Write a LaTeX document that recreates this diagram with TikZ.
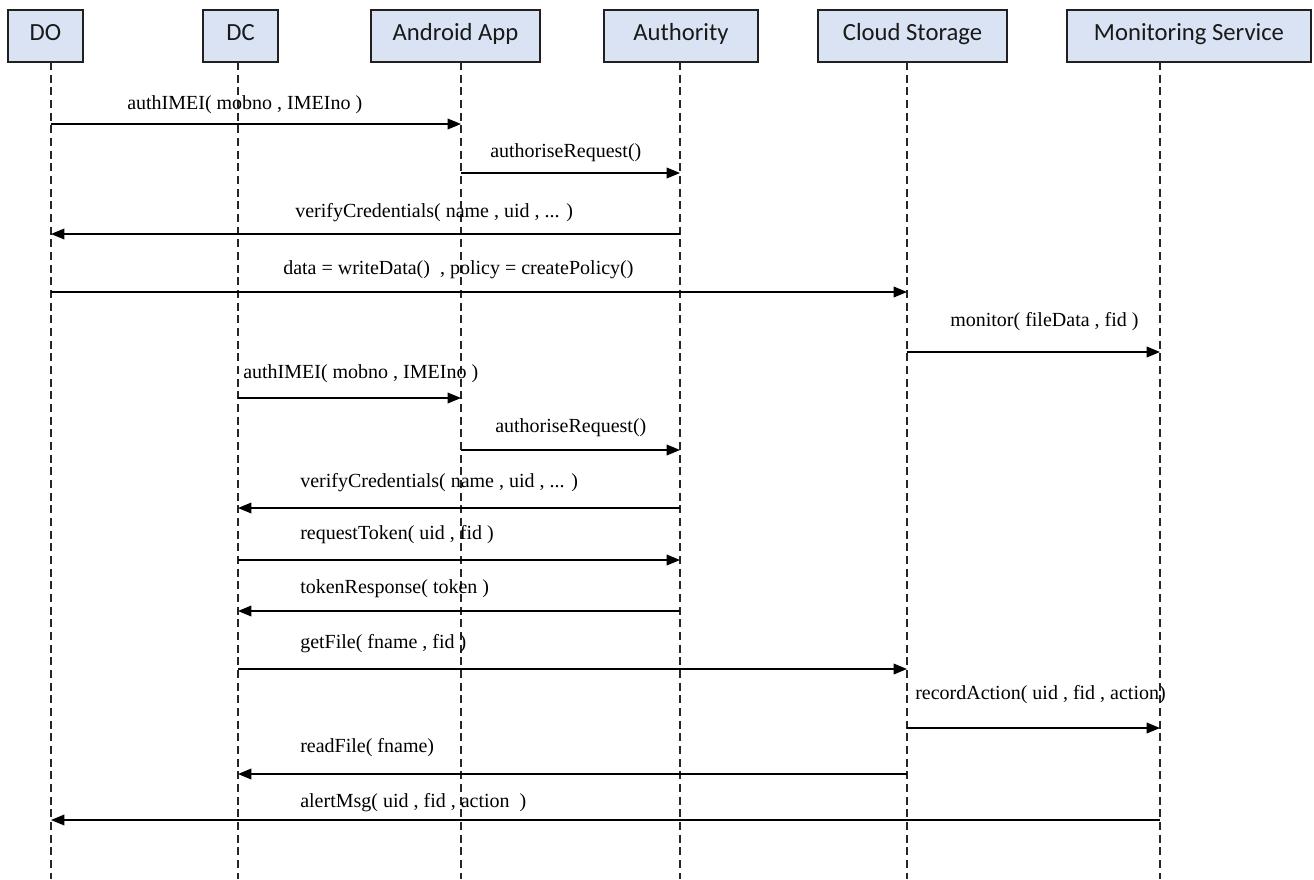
\documentclass[tikz,border=0pt]{standalone}
\usepackage{fontspec}
\setmainfont{Liberation Serif}
\newfontfamily\headfont{Carlito}
\usetikzlibrary{arrows.meta}
\definecolor{headfill}{HTML}{DAE3F3}
\definecolor{headdraw}{HTML}{202020}
\tikzset{
  actor/.style={draw=headdraw, line width=1.1pt, fill=headfill, minimum height=52*0.75pt,
    inner sep=0pt, text height=0.7em, text depth=0pt,
    font=\headfont\fontsize{18.5}{20}\selectfont, text=black!90},
  lifeline/.style={draw=black!85, line width=0.8pt, dash pattern=on 6pt off 3.5pt},
  msg/.style={draw=black, line width=1pt, -{Triangle[length=10pt,width=8pt]}},
  msglabel/.style={anchor=west, inner sep=0pt, font=\fontsize{15}{17}\selectfont}
}
\begin{document}
\begin{tikzpicture}[x=0.75pt, y=-0.75pt]
\useasboundingbox (0,0) rectangle (1314,879);

% actor heads
\node[actor, minimum width=75*0.75pt]  (do)  at (45.5,36)  {DO};
\node[actor, minimum width=75*0.75pt]  (dc)  at (240.5,36) {DC};
\node[actor, minimum width=169*0.75pt] (app) at (455.5,36) {Android App};
\node[actor, minimum width=154*0.75pt] (aut) at (681,36)   {Authority};
\node[actor, minimum width=189*0.75pt] (cs)  at (912.5,36) {Cloud Storage};
\node[actor, minimum width=244*0.75pt] (ms)  at (1189,36)  {Monitoring Service};

% lifelines
\coordinate (doL)  at (51,62);   \coordinate (doE)  at (51,879);
\coordinate (dcL)  at (238,62);  \coordinate (dcE)  at (238,879);
\coordinate (appL) at (461,62);  \coordinate (appE) at (461,879);
\coordinate (autL) at (680,62);  \coordinate (autE) at (680,879);
\coordinate (csL)  at (907,62);  \coordinate (csE)  at (907,879);
\coordinate (msL)  at (1160,62); \coordinate (msE)  at (1160,879);
\foreach \a in {do,dc,app,aut,cs,ms}
  \draw[lifeline] (\a L) -- (\a E);

% message rows
\coordinate (m1) at (0,124);
\coordinate (m2) at (0,173);
\coordinate (m3) at (0,234);
\coordinate (m4) at (0,292);
\coordinate (m5) at (0,352);
\coordinate (m6) at (0,398);
\coordinate (m7) at (0,450);
\coordinate (m8) at (0,508);
\coordinate (m9) at (0,560);
\coordinate (m10) at (0,611);
\coordinate (m11) at (0,669);
\coordinate (m12) at (0,728);
\coordinate (m13) at (0,774);
\coordinate (m14) at (0,820);

% messages
\draw[msg] (doL |- m1)   -- (appL |- m1);
\draw[msg] (appL |- m2)  -- (autL |- m2);
\draw[msg] (autL |- m3)  -- (doL |- m3);
\draw[msg] (doL |- m4)   -- (csL |- m4);
\draw[msg] (csL |- m5)   -- (msL |- m5);
\draw[msg] (dcL |- m6)   -- (appL |- m6);
\draw[msg] (appL |- m7)  -- (autL |- m7);
\draw[msg] (autL |- m8)  -- (dcL |- m8);
\draw[msg] (dcL |- m9)   -- (autL |- m9);
\draw[msg] (autL |- m10) -- (dcL |- m10);
\draw[msg] (dcL |- m11)  -- (csL |- m11);
\draw[msg] (csL |- m12)  -- (msL |- m12);
\draw[msg] (csL |- m13)  -- (dcL |- m13);
\draw[msg] (msL |- m14)  -- (doL |- m14);

% message labels
\node[msglabel] (l1)  at (127,105) {authIMEI( mobno , IMEIno )};
\node[msglabel] (l2)  at (490,153) {authoriseRequest()};
\node[msglabel] (l3)  at (295,213) {verifyCredentials( name , uid , ... )};
\node[msglabel] (l4)  at (283,270) {data = writeData() \ , policy = createPolicy()};
\node[msglabel] (l5)  at (950,322) {monitor( fileData , fid )};
\node[msglabel] (l6)  at (243,374) {authIMEI( mobno , IMEIno )};
\node[msglabel] (l7)  at (495,428) {authoriseRequest()};
\node[msglabel] (l8)  at (300,483) {verifyCredentials( name , uid , ... )};
\node[msglabel] (l9)  at (300,535) {requestToken( uid , fid )};
\node[msglabel] (l10) at (300,589) {tokenResponse( token )};
\node[msglabel] (l11) at (300,644) {getFile( fname , fid )};
\node[msglabel] (l12) at (915,695) {recordAction( uid , fid , action)};
\node[msglabel] (l13) at (300,748) {readFile( fname)};
\node[msglabel] (l14) at (300,803) {alertMsg( uid , fid , action \ )};
\end{tikzpicture}
\end{document}
